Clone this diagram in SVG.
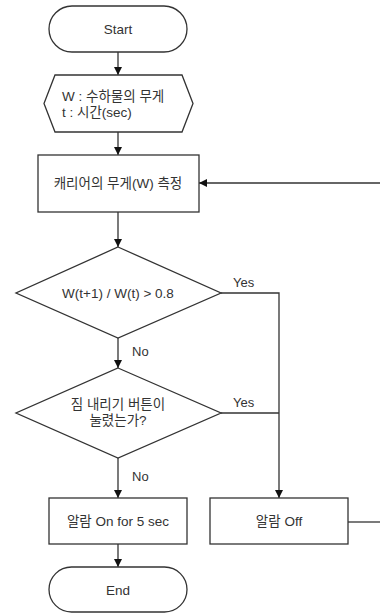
<svg xmlns="http://www.w3.org/2000/svg" width="380" height="613" viewBox="0 0 380 613">
<style>
.shape{fill:#ffffff;stroke:#333333;stroke-width:1.3}
.line{fill:none;stroke:#333333;stroke-width:1.3}
text{font-family:"Liberation Sans","Noto Sans CJK KR",Arial,sans-serif;font-size:13.5px;fill:#333333}
.c{text-anchor:middle;dominant-baseline:central}
.lbl{font-size:13px}
</style>
<defs>
<marker id="arr" markerWidth="10" markerHeight="10" refX="8" refY="4" orient="auto" markerUnits="userSpaceOnUse">
<path d="M0,0 L8,4 L0,8 Z" fill="#111111"/>
</marker>
</defs>
<rect width="380" height="613" fill="#ffffff"/>
<g id="connectors">
<line class="line" x1="118" y1="52" x2="118" y2="75" marker-end="url(#arr)"/>
<line class="line" x1="118" y1="132" x2="118" y2="155" marker-end="url(#arr)"/>
<line class="line" x1="118" y1="212" x2="118" y2="247" marker-end="url(#arr)"/>
<line class="line" x1="118" y1="338" x2="118" y2="368" marker-end="url(#arr)"/>
<line class="line" x1="118" y1="458" x2="118" y2="498" marker-end="url(#arr)"/>
<line class="line" x1="118" y1="544" x2="118" y2="567" marker-end="url(#arr)"/>
<polyline class="line" points="221,293 279,293 279,498" marker-end="url(#arr)"/>
<line class="line" x1="221" y1="413" x2="279" y2="413"/>
<polyline class="line" points="348,522 380,522"/>
<line class="line" x1="380" y1="183" x2="199" y2="183" marker-end="url(#arr)"/>
<text class="lbl" x="233" y="287">Yes</text>
<text class="lbl" x="233" y="407">Yes</text>
<text class="lbl" x="132" y="356">No</text>
<text class="lbl" x="132" y="481">No</text>
</g>
<g id="start">
<rect class="shape" x="49" y="6" width="138" height="46" rx="23" ry="23"/>
<text class="c" x="118" y="29">Start</text>
</g>
<g id="input">
<polygon class="shape" points="55,75 182,75 193,103.5 182,132 55,132 44,103.5"/>
<text x="62" y="101">W : 수하물의 무게</text>
<text x="62" y="117">t : 시간(sec)</text>
</g>
<g id="measure">
<rect class="shape" x="38" y="155" width="161" height="57"/>
<text class="c" x="118" y="183">캐리어의 무게(W) 측정</text>
</g>
<g id="decision1">
<polygon class="shape" points="118,247 221,293 118,338 16,293"/>
<text class="c" x="118" y="293">W(t+1) / W(t) &gt; 0.8</text>
</g>
<g id="decision2">
<polygon class="shape" points="118,368 221,413 118,458 16,413"/>
<text class="c" x="118" y="404">짐 내리기 버튼이</text>
<text class="c" x="118" y="420">눌렸는가?</text>
</g>
<g id="alarmOn">
<rect class="shape" x="49" y="498" width="138" height="46"/>
<text class="c" x="118" y="521">알람 On for 5 sec</text>
</g>
<g id="alarmOff">
<rect class="shape" x="210" y="498" width="138" height="46"/>
<text class="c" x="279" y="521">알람 Off</text>
</g>
<g id="end">
<rect class="shape" x="49" y="567" width="138" height="45" rx="22.5" ry="22.5"/>
<text class="c" x="118" y="590">End</text>
</g>
</svg>
